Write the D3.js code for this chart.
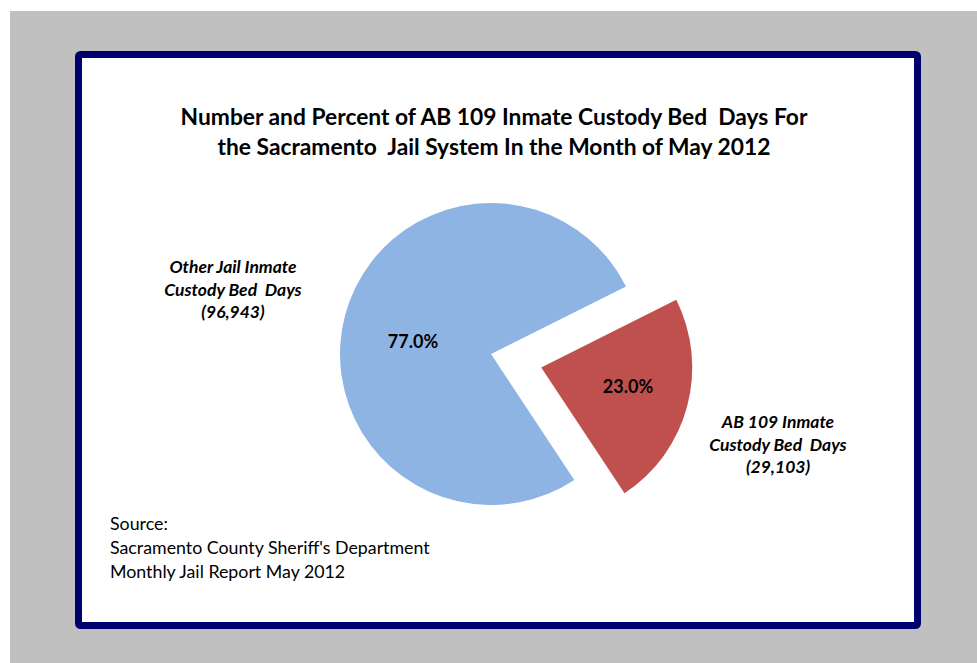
<!DOCTYPE html>
<html>
<head>
<meta charset="utf-8">
<script src="https://cdn.jsdelivr.net/npm/d3@7"></script>
<style>
  body { margin:0; background:#fff; }
  text { font-family: Lato, "Open Sans", sans-serif; white-space: pre; }
</style>
</head>
<body>
<svg id="chart"></svg>
<script>
// slice data, first slice starts at ~63 degrees like the excel chart
var categories = ["AB 109 Inmate Custody Bed Days", "Other Jail Inmate Custody Bed Days"];
var values = [29103, 96943];
var pctLabels = ["23.0%", "77.0%"];
var sliceLabels = [
  ["AB 109 Inmate", "Custody Bed  Days", "(29,103)"],
  ["Other Jail Inmate", "Custody Bed  Days", "(96,943)"]
];
var colors = ["#c0504d", "#8eb4e3"];
var titleLines = ["Number and Percent of AB 109 Inmate Custody Bed  Days For",
                  "the Sacramento  Jail System In the Month of May 2012"];
var sourceLines = ["Source:", "Sacramento County Sheriff's Department", "Monthly Jail Report May 2012"];

var scren = { width: 977, height: 663 };
var svg = d3.select("#chart")
  .attr("width", scren.width)
  .attr("height", scren.height);

// gray page + navy frame
svg.append("rect")
  .attr("x", 10).attr("y", 11)
  .attr("width", scren.width - 10).attr("height", scren.height - 11)
  .attr("fill", "#c0c0c0");
svg.append("rect")
  .attr("x", 78.5).attr("y", 54.5)
  .attr("width", 839).attr("height", 571)
  .attr("rx", 2)
  .attr("fill", "#fff")
  .attr("stroke", "#00006c")
  .attr("stroke-width", 7);

// title
svg.append("g").selectAll("text")
  .data(titleLines)
  .enter()
  .append("text")
  .attr("x", 494)
  .attr("y", function(d, i) { return 124.5 + i * 30; })
  .attr("text-anchor", "middle")
  .attr("font-size", 22.8)
  .attr("font-weight", "bold")
  .attr("fill", "#000")
  .text(function(d) { return d; });

var cx = 491, cy = 354, radius = 151, explode = 52;
var startAngle = 63.4 * Math.PI / 180;

var pie = d3.pie()
  .sort(null)
  .startAngle(startAngle)
  .endAngle(startAngle + 2 * Math.PI);
var arcs = pie(values);

var arc = d3.arc().innerRadius(0).outerRadius(radius);

var plot = svg.append("g")
  .attr("transform", "translate(" + cx + "," + cy + ")");

var offset = function(d, i) {
  if (i != 0) return [0, 0];
  var a = (d.startAngle + d.endAngle) / 2;
  return [Math.sin(a) * explode, -Math.cos(a) * explode];
};

plot.selectAll("path")
  .data(arcs)
  .enter()
  .append("path")
  .attr("d", arc)
  .attr("fill", function(d, i) { return colors[i]; })
  .attr("transform", function(d, i) {
    var o = offset(d, i);
    return "translate(" + o[0] + "," + o[1] + ")";
  });

// percent labels inside
var pctPos = [[137, 39], [-78, -6]];
plot.selectAll("text.pct")
  .data(arcs)
  .enter()
  .append("text")
  .attr("class", "pct")
  .attr("x", function(d, i) { return pctPos[i][0]; })
  .attr("y", function(d, i) { return pctPos[i][1]; })
  .attr("text-anchor", "middle")
  .attr("font-size", 18)
  .attr("font-weight", "bold")
  .text(function(d, i) { return pctLabels[i]; });

// category labels outside
var catPos = [[778, 428], [233, 273]];
sliceLabels.forEach(function(lines, k) {
  svg.append("g").selectAll("text")
    .data(lines)
    .enter()
    .append("text")
    .attr("x", catPos[k][0])
    .attr("y", function(d, i) { return catPos[k][1] + i * 22.5; })
    .attr("text-anchor", "middle")
    .attr("font-size", 17.5)
    .attr("font-weight", "bold")
    .attr("font-style", "italic")
    .text(function(d) { return d; });
});

// source note
svg.append("g").selectAll("text")
  .data(sourceLines)
  .enter()
  .append("text")
  .attr("x", 110)
  .attr("y", function(d, i) { return 530 + i * 24; })
  .attr("font-size", 17.8)
  .text(function(d) { return d; });
</script>
</body>
</html>
